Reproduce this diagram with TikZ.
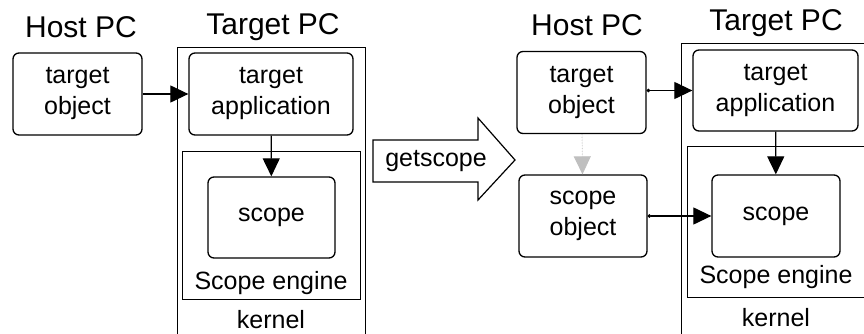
\documentclass[tikz,border=0pt]{standalone}
\usepackage{fontspec}
\setmainfont{Liberation Sans}
\usetikzlibrary{arrows.meta,positioning}

\begin{document}
\begin{tikzpicture}[x=1pt,y=-1pt,obj/.style={draw,line width=1.3pt,rounded corners=6pt,align=center,minimum width=129pt,minimum height=82pt,inner sep=0pt,font=\fontsize{25}{31}\selectfont},frame/.style={draw,line width=1pt,inner sep=0pt,anchor=north west},lbl/.style={inner sep=0pt,font=\fontsize{25}{30}\selectfont},head/.style={inner sep=0pt,font=\fontsize{30}{32}\selectfont},arr/.style={-{Triangle[length=18pt,width=17pt]},line width=1.2pt},dotarr/.style={{Circle[length=3.5pt]}-{Triangle[length=18pt,width=17pt]},line width=1.2pt}]
\useasboundingbox (0,0) rectangle (864,334);
\node[head](host1) at (81,27){Host PC};
\node[head](tgt1) at (273,27){Target PC};
\node[frame,minimum width=188pt,minimum height=300pt](kern1) at (177,47){};
\node[frame,minimum width=178pt,minimum height=148pt](eng1) at (182,151){};
\node[obj](tobj1) at (77.5,94){target\\object};
\node[obj,minimum width=164pt](tapp1) at (271,94){target\\application};
\node[obj,minimum width=127pt,minimum height=81pt](scope1) at (271.5,217.5){scope};
\node[lbl](englbl1) at (271,283){Scope engine};
\node[lbl](kernlbl1) at (271,320){kernel};
\draw[arr](tobj1)--(tapp1);\draw[arr](tapp1)--(scope1);
\draw[line width=1.2pt,line join=miter](373,140)--(478,140)--(478,118)--(515,160)--(478,200)--(478,182)--(373,182)--cycle;
\node[lbl](getlbl) at (436,161){getscope};
\node[head](host2) at (587,25){Host PC};
\node[head](tgt2) at (776,23){Target PC};
\node[frame,minimum width=200pt,minimum height=300pt](kern2) at (681,43){};
\node[frame,minimum width=180pt,minimum height=151pt](eng2) at (687,146){};
\node[obj](tobj2) at (581.5,92.5){target\\object};
\node[obj,minimum width=128pt](sobj2) at (583,216){scope\\object};
\node[obj,minimum width=165pt,minimum height=81pt](tapp2) at (775.5,90.5){target\\application};
\node[obj,minimum width=128pt](scope2) at (776,216){scope};
\node[lbl](englbl2) at (776,277){Scope engine};
\node[lbl](kernlbl2) at (776,318){kernel};
\draw[dotarr](tobj2.east|-tapp2.west)--(tapp2.west);\draw[dotarr](sobj2)--(scope2);\draw[arr](tapp2)--(scope2);
\draw[arr,draw=black!25,fill=black!25,line width=0.8pt,dotted](tobj2)--(sobj2);
\end{tikzpicture}
\end{document}
